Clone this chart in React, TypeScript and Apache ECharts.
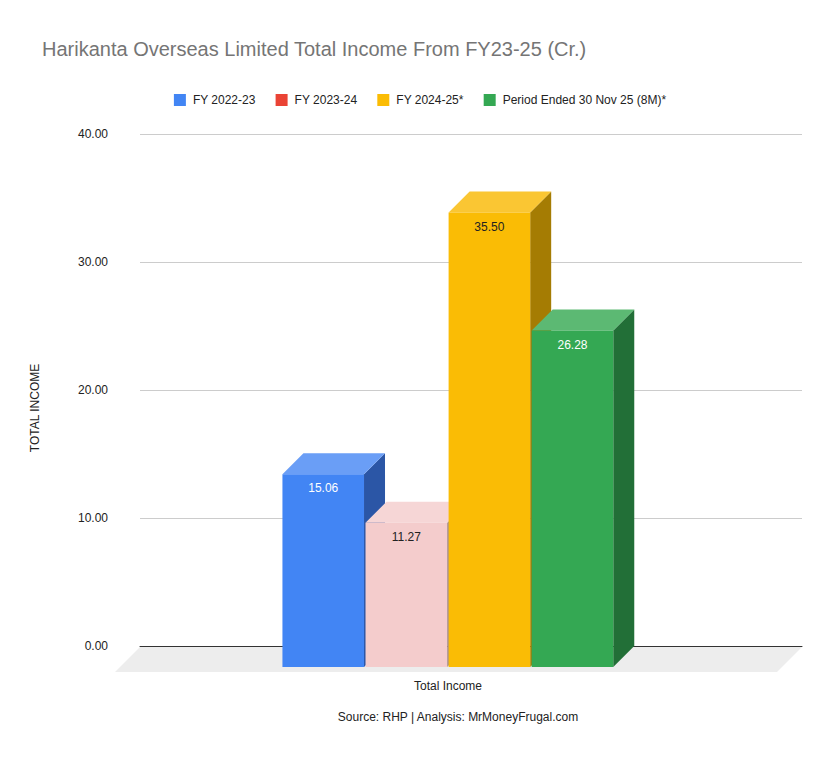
import React, { useEffect, useRef } from "react";
import * as echarts from "echarts";

const categories = ["Total Income"];
const seriesNames = ["FY 2022-23", "FY 2023-24", "FY 2024-25*", "Period Ended 30 Nov 25 (8M)*"];
const seriesValues = [15.06, 11.27, 35.5, 26.28];
const legendColors = ["#4285F4", "#EA4335", "#FBBC04", "#34A853"];
const frontColors = ["#4285F4", "#F4CCCC", "#FABC05", "#34A853"];
const topColors = ["#6A9EF6", "#F6D6D6", "#FAC633", "#5CB973"];
const sideColors = ["#2B56A6", "#A88D8D", "#A57C03", "#226F37"];
const labelColors = ["#FFFFFF", "#222222", "#222222", "#FFFFFF"];
const yTicks = { min: 0, max: 40, interval: 10 };

const FONT = "Arial, 'Liberation Sans', sans-serif";

export default function App() {
  const ref = useRef<HTMLDivElement>(null);
  useEffect(() => {
    if (!ref.current) return;
    const chart = echarts.init(ref.current, undefined, { renderer: "svg" });
    const D = 21;

    const barRender = (params: any, api: any) => {
      const idx = api.value(2);
      const val = api.value(1);
      const top = api.coord([api.value(0), val]);
      const zero = api.coord([api.value(0), 0]);
      const band = api.size([1, 0])[0];
      const pitch = band * 0.1255;
      const w = pitch - 1.5;
      const cx = top[0];
      const bx = cx - 2 * pitch - 1.4 + idx * pitch;
      const ty = top[1];
      const zy = zero[1];
      const fx = bx - D;
      return {
        type: "group",
        children: [
          {
            type: "polygon",
            shape: { points: [[fx + w, ty + D], [bx + w, ty], [bx + w, zy], [fx + w, zy + D]] },
            style: { fill: sideColors[idx] },
          },
          {
            type: "polygon",
            shape: { points: [[fx, ty + D], [fx + w, ty + D], [bx + w, ty], [bx, ty]] },
            style: { fill: topColors[idx] },
          },
          {
            type: "rect",
            shape: { x: fx, y: ty + D, width: w, height: zy - ty },
            style: { fill: frontColors[idx] },
          },
          {
            type: "text",
            x: fx + w / 2,
            y: ty + D + 14,
            style: {
              text: seriesValues[idx].toFixed(2),
              fill: labelColors[idx],
              font: `12px ${FONT}`,
              align: "center",
              verticalAlign: "middle",
            },
          },
        ],
      };
    };

    const floorRender = (params: any, api: any) => {
      const cs = params.coordSys;
      const y = cs.y + cs.height;
      const x0 = cs.x;
      const x1 = cs.x + cs.width;
      return {
        type: "polygon",
        shape: { points: [[x0, y + 1], [x1, y + 1], [x1 - 25, y + 26], [x0 - 25, y + 26]] },
        style: { fill: "#EDEDED" },
      };
    };

    chart.setOption({
      animation: false,
      backgroundColor: "#FFFFFF",
      title: {
        text: "Harikanta Overseas Limited Total Income From FY23-25 (Cr.)",
        left: 37,
        top: 34,
        textStyle: { fontFamily: FONT, fontSize: 20, fontWeight: "normal", color: "#757575" },
      },
      legend: {
        top: 89,
        left: "center",
        itemWidth: 12,
        itemHeight: 12,
        itemGap: 20,
        icon: "rect",
        data: seriesNames.map((n, i) => ({ name: n, itemStyle: { color: legendColors[i] } })),
        textStyle: { fontFamily: FONT, fontSize: 12, color: "#222222", padding: [0, 0, 0, 2] },
      },
      grid: { left: 140, right: 38, top: 134, bottom: 117, containLabel: false },
      xAxis: {
        type: "category",
        data: categories,
        axisLine: { show: true, lineStyle: { color: "#333333", width: 1 } },
        axisTick: { show: false },
        axisLabel: {
          margin: 34,
          fontFamily: FONT,
          fontSize: 12,
          color: "#222222",
          padding: [0, 46, 0, 0],
        },
      },
      yAxis: {
        type: "value",
        min: yTicks.min,
        max: yTicks.max,
        interval: yTicks.interval,
        axisLine: { show: false },
        axisTick: { show: false },
        splitLine: { lineStyle: { color: "#CCCCCC" } },
        axisLabel: {
          margin: 32,
          fontFamily: FONT,
          fontSize: 12,
          color: "#222222",
          formatter: (v: number) => v.toFixed(2),
        },
      },
      graphic: [
        {
          type: "text",
          x: 35,
          y: 408,
          rotation: Math.PI / 2,
          style: {
            text: "TOTAL INCOME",
            font: `12px ${FONT}`,
            fill: "#222222",
            align: "center",
            verticalAlign: "middle",
          },
        },
        {
          type: "text",
          x: 458,
          y: 717,
          style: {
            text: "Source: RHP | Analysis: MrMoneyFrugal.com",
            font: `12px ${FONT}`,
            fill: "#222222",
            align: "center",
            verticalAlign: "middle",
          },
        },
      ],
      series: [
        {
          type: "custom",
          name: "floor",
          renderItem: floorRender,
          data: [[0, 0]],
          z: 1,
          silent: true,
        },
        ...seriesNames.map((name, i) => ({
          type: "custom",
          name,
          itemStyle: { color: legendColors[i] },
          renderItem: barRender,
          data: [[0, seriesValues[i], i]],
          z: 2,
        })),
      ],
    });
    return () => chart.dispose();
  }, []);
  return (
    <div
      ref={ref}
      style={{ position: "fixed", left: 0, top: 0, width: 840, height: 763 }}
    />
  );
}
